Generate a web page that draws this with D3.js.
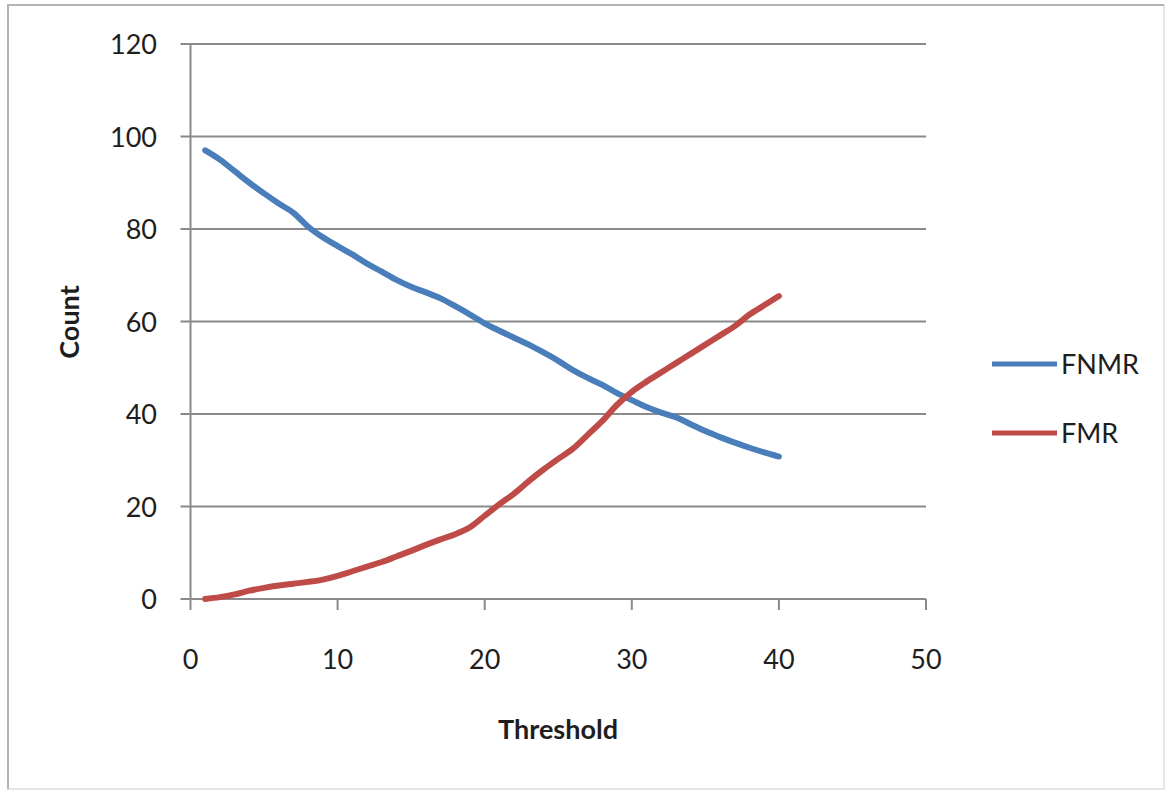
<!DOCTYPE html>
<html>
<head>
<meta charset="utf-8">
<script src="https://cdn.jsdelivr.net/npm/d3@7"></script>
<style>
  body { margin: 0; background: #fff; }
  text { font-family: Lato, "Open Sans", sans-serif; fill: #1e1e1e; }
</style>
</head>
<body>
<div class="chart"></div>
<script>
'use strict';

// thresholds 1..40
var thresholds = d3.range(1, 41);

var fnmr = [97, 95, 92.5, 90, 87.7, 85.5, 83.5, 80.5, 78.2, 76.3,
            74.5, 72.5, 70.8, 69, 67.5, 66.3, 65, 63.3, 61.5, 59.6,
            58, 56.5, 55, 53.3, 51.5, 49.5, 47.8, 46.3, 44.5, 43,
            41.5, 40.3, 39.3, 37.8, 36.3, 35, 33.8, 32.7, 31.7, 30.8];

var fmr  = [0, 0.4, 1, 1.8, 2.4, 2.9, 3.3, 3.7, 4.2, 5,
            6, 7, 8, 9.2, 10.4, 11.7, 12.9, 14, 15.5, 18,
            20.5, 22.8, 25.5, 28, 30.3, 32.5, 35.5, 38.5, 42, 44.8,
            47, 49, 51, 53, 55, 57, 59, 61.5, 63.5, 65.5];

var seriesNames  = ['FNMR', 'FMR'];
var seriesColors = ['#4a7ebb', '#be4b48'];
var xTicks = [0, 10, 20, 30, 40, 50];
var yTicks = [0, 20, 40, 60, 80, 100, 120];

var width = 1167, height = 794;

var svg = d3.select('.chart')
  .append('svg')
  .attr('width', width)
  .attr('height', height);

// chart frame
svg.append('rect')
  .attr('x', 8).attr('y', 5)
  .attr('width', 1156).attr('height', 784)
  .attr('fill', 'none')
  .attr('stroke', '#e6e6e6')
  .attr('stroke-width', 2);
svg.append('path')
  .attr('d', 'M8,789V5H1164')
  .attr('fill', 'none')
  .attr('stroke', '#b4b4b4')
  .attr('stroke-width', 2);

var x = d3.scaleLinear().domain([0, 50]).range([190.5, 926]);
var y = d3.scaleLinear().domain([0, 120]).range([599, 44]);

var gridColor = '#8a8a8a';

// horizontal gridlines (with outward ticks)
svg.append('g')
  .selectAll('line')
  .data(yTicks)
  .enter().append('line')
  .attr('x1', x(0) - 10)
  .attr('x2', x(50))
  .attr('y1', function(d){ return y(d); })
  .attr('y2', function(d){ return y(d); })
  .attr('stroke', gridColor)
  .attr('stroke-width', 2);

// y axis line
svg.append('line')
  .attr('x1', x(0)).attr('x2', x(0))
  .attr('y1', y(120)).attr('y2', y(0))
  .attr('stroke', gridColor)
  .attr('stroke-width', 2);

// x ticks
svg.append('g')
  .selectAll('line')
  .data(xTicks)
  .enter().append('line')
  .attr('x1', function(d){ return x(d); })
  .attr('x2', function(d){ return x(d); })
  .attr('y1', y(0))
  .attr('y2', y(0) + 11)
  .attr('stroke', gridColor)
  .attr('stroke-width', 2);

// y tick labels
svg.append('g')
  .selectAll('text')
  .data(yTicks)
  .enter().append('text')
  .attr('x', 157)
  .attr('y', function(d){ return y(d) + 10; })
  .attr('text-anchor', 'end')
  .style('font-size', '27px')
  .text(function(d){ return d; });

// x tick labels
svg.append('g')
  .selectAll('text')
  .data(xTicks)
  .enter().append('text')
  .attr('x', function(d){ return x(d); })
  .attr('y', 669)
  .attr('text-anchor', 'middle')
  .style('font-size', '27px')
  .text(function(d){ return d; });

// axis titles
svg.append('text')
  .attr('x', 558)
  .attr('y', 739)
  .attr('text-anchor', 'middle')
  .style('font-size', '27px')
  .style('font-weight', 'bold')
  .text('Threshold');

svg.append('text')
  .attr('transform', 'translate(79,322) rotate(-90)')
  .attr('text-anchor', 'middle')
  .style('font-size', '27px')
  .style('font-weight', 'bold')
  .text('Count');

// series lines
var series = [fnmr, fmr];
var line = d3.line()
  .x(function(d, i){ return x(thresholds[i]); })
  .y(function(d){ return y(d); })
  .curve(d3.curveMonotoneX);

svg.append('g')
  .selectAll('path')
  .data(series)
  .enter().append('path')
  .attr('d', line)
  .attr('fill', 'none')
  .attr('stroke', function(d, i){ return seriesColors[i]; })
  .attr('stroke-width', 6)
  .attr('stroke-linecap', 'round')
  .attr('stroke-linejoin', 'round');

// legend
var legend = svg.append('g')
  .selectAll('g')
  .data(seriesNames)
  .enter().append('g')
  .attr('transform', function(d, i){ return 'translate(992,' + (364 + i * 69) + ')'; });

legend.append('line')
  .attr('x1', 0).attr('x2', 65)
  .attr('stroke', function(d, i){ return seriesColors[i]; })
  .attr('stroke-width', 5);

legend.append('text')
  .attr('x', 69)
  .attr('y', 10)
  .style('font-size', '27px')
  .text(function(d){ return d; });
</script>
</body>
</html>
